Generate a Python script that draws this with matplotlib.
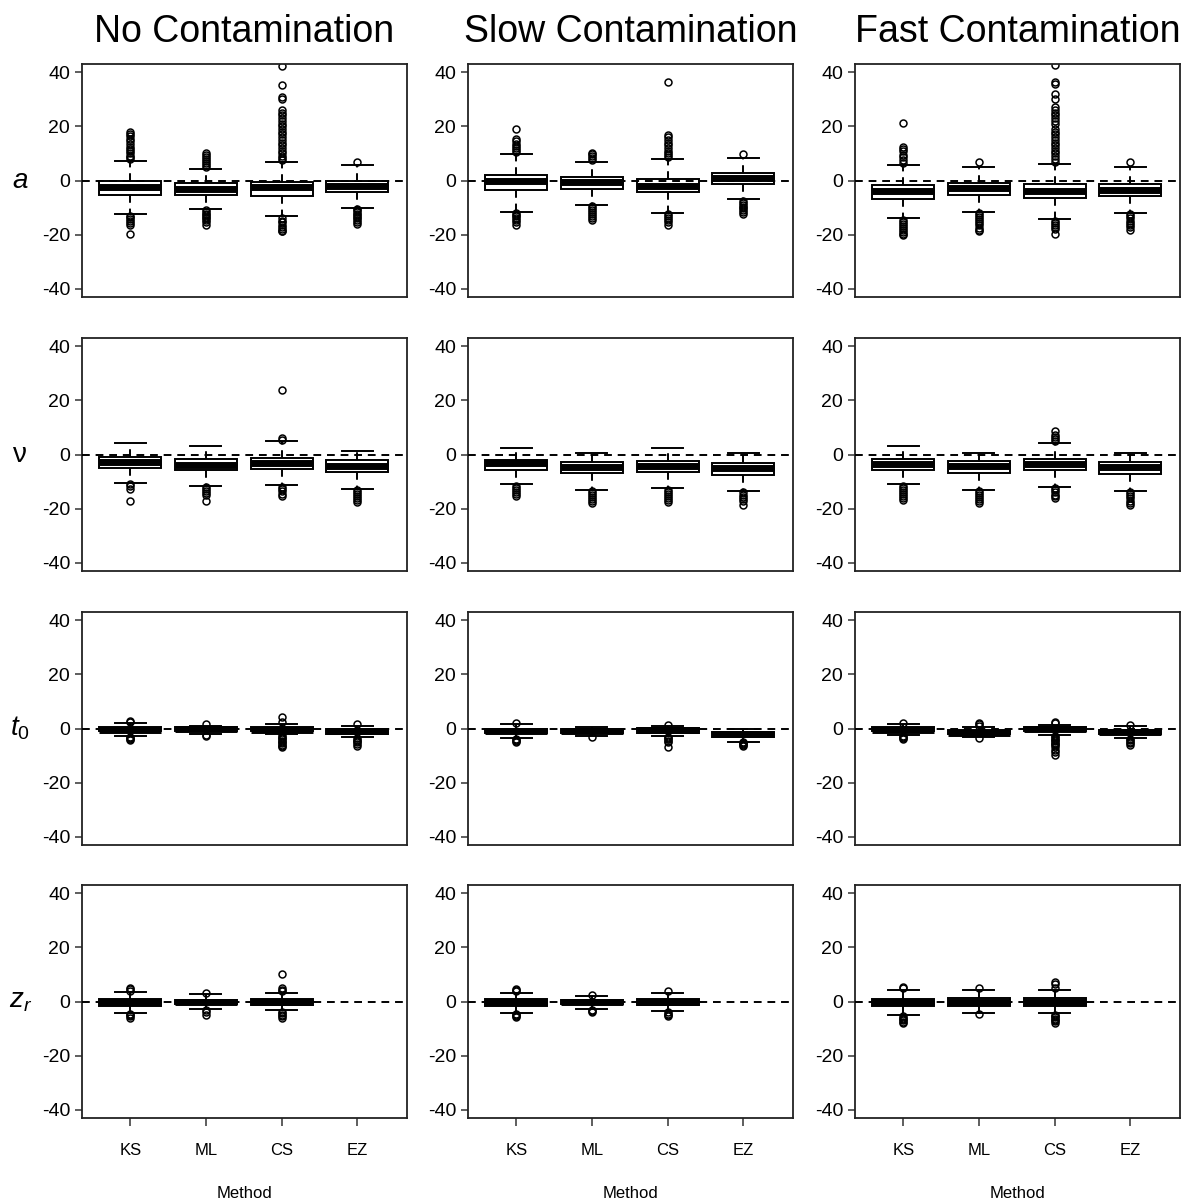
import numpy as np
import matplotlib
matplotlib.use('Agg')
import matplotlib.pyplot as plt
from matplotlib import transforms

plt.rcParams['font.family'] = ['Liberation Sans', 'DejaVu Sans']
plt.rcParams['mathtext.fontset'] = 'custom'
plt.rcParams['mathtext.rm'] = 'Liberation Sans'
plt.rcParams['mathtext.it'] = 'Liberation Sans:italic'

methods = ['KS', 'ML', 'CS', 'EZ']
conditions = ['No Contamination', 'Slow Contamination', 'Fast Contamination']
param_labels = ['$a$', 'ν', '$t_0$', '$z_r$']

# percent bias summaries, rows = condition, columns = method
# --- a ---
a_q1 = [[-5.2, -5.2, -5.7, -4.1], [-3.5, -3.1, -4.4, -1.2], [-6.7, -5.2, -6.5, -5.8]]
a_med = [[-2.3, -3.0, -2.5, -1.9], [-0.1, -0.7, -2.0, 0.9], [-3.8, -2.7, -4.0, -3.5]]
a_q3 = [[-0.3, -1.0, -0.4, -0.1], [2.2, 1.2, 0.6, 2.8], [-1.5, -1.0, -1.4, -1.2]]
a_lo = [[-12.5, -10.5, -13.1, -10.0], [-11.5, -9.0, -11.9, -6.9], [-14.0, -11.5, -14.3, -12.1]]
a_hi = [[7.3, 4.1, 6.9, 5.7], [9.8, 7.0, 8.0, 8.4], [5.7, 4.9, 6.2, 5.0]]
a_out = [
    [[8, 8.6, 9.2, 10, 10.8, 11.5, 12.5, 13.5, 14.5, 15.5, 16.5, 17.2, 17.8,
      -13, -13.6, -14.2, -15, -15.8, -16.5, -19.6],
     [5, 5.8, 6.5, 7.2, 8, 8.7, 9.4, 10,
      -11, -11.6, -12.2, -12.8, -13.4, -14, -14.7, -15.4, -16.3],
     [7.5, 8.2, 9, 10, 11, 12, 13, 14, 15, 16, 17, 18, 19, 20, 21, 22, 23, 24,
      25, 26, 30.2, 30.8, 35.4, 42.3,
      -14, -14.8, -15.5, -16.3, -17, -17.8, -18.5, -18.8],
     [6.8, -10.5, -11, -11.6, -12.2, -12.8, -13.4, -14, -14.7, -15.4, -16]],
    [[10.5, 11.3, 12, 12.8, 13.6, 14.5, 15.5, 19,
      -12, -12.6, -13.2, -13.8, -14.5, -15.5, -16.3],
     [7.6, 8.3, 9, 9.6, 10.3,
      -9.5, -10.2, -10.8, -11.5, -12.2, -13, -13.8, -14.6],
     [8.6, 9.3, 10, 11, 12, 13, 14, 15, 16, 16.8, 36.2,
      -12.5, -13.2, -14, -14.7, -15.5, -16.3],
     [9.9, -7.5, -8.2, -8.9, -9.6, -10.3, -11, -11.7, -12.4]],
    [[6.5, 7.5, 8.5, 9.5, 11, 11.7, 12.3, 21.2,
      -14.5, -15.2, -16, -16.8, -17.5, -18.3, -19, -19.7, -20.2],
     [6.7, -12, -12.7, -13.4, -14.2, -15, -15.8, -16.6, -17.4, -18.2, -18.8],
     [7, 8, 9, 10, 11, 12, 13, 14, 15, 16, 17, 18, 19, 21, 22, 23, 24, 25, 26,
      27, 30, 32, 35.5, 36.2, 42.5,
      -15, -15.7, -16.4, -17.2, -18, -19.8],
     [6.8, -12.5, -13.2, -14, -14.8, -15.6, -16.4, -17.2, -18.2]],
]

# --- nu ---
v_q1 = [[-4.9, -5.9, -5.3, -6.4], [-5.8, -7.0, -6.5, -7.4], [-5.6, -6.9, -5.9, -7.3]]
v_med = [[-2.8, -3.7, -3.1, -4.1], [-3.3, -4.6, -4.3, -4.9], [-3.5, -4.4, -3.6, -4.7]]
v_q3 = [[-1.1, -1.6, -1.2, -2.1], [-1.9, -2.6, -2.3, -3.1], [-1.6, -2.5, -1.6, -2.8]]
v_lo = [[-10.4, -11.5, -11.4, -12.7], [-11.0, -13.0, -12.5, -13.6], [-11.0, -13.0, -12.0, -13.3]]
v_hi = [[4.1, 3.1, 4.9, 1.2], [2.3, 0.5, 2.3, 0.5], [3.3, 0.4, 4.1, 0.5]]
v_out = [
    [[-11, -11.8, -12.6, -17],
     [-12, -12.7, -13.4, -14.2, -15, -17],
     [5.5, 6, 23.7, -12, -12.8, -13.6, -14.5, -15.4],
     [-13, -13.7, -14.4, -15.2, -16, -16.8, -17.7]],
    [[-11.5, -12.2, -13, -13.8, -14.6, -15.5],
     [-13.5, -14.2, -15, -15.8, -16.6, -17.3, -18],
     [-13, -13.7, -14.5, -15.3, -16.1, -16.8, -17.5],
     [-14, -14.8, -15.6, -16.4, -17.2, -18.5]],
    [[-11.5, -12.2, -13, -13.8, -14.6, -15.4, -16.2, -16.8],
     [-13.5, -14.2, -15, -15.8, -16.6, -17.3, -18],
     [5, 5.7, 6.4, 7.2, 8.7, -12.5, -13.2, -14, -14.8, -15.5, -16],
     [-13.8, -14.6, -15.4, -16.2, -17, -17.8, -18.5]],
]

# --- t0 ---
t_q1 = [[-1.0, -0.9, -1.0, -1.9], [-1.7, -1.7, -1.6, -3.1], [-1.1, -2.2, -1.0, -2.1]]
t_med = [[-0.4, -0.3, -0.4, -1.0], [-0.9, -0.9, -0.7, -2.2], [-0.4, -1.5, -0.2, -1.2]]
t_q3 = [[0.4, 0.4, 0.4, -0.1], [0.0, 0.0, 0.1, -1.2], [0.4, -0.6, 0.5, -0.5]]
t_lo = [[-2.6, -2.0, -2.2, -3.3], [-3.5, -2.8, -2.7, -4.8], [-2.3, -3.1, -2.3, -3.5]]
t_hi = [[1.9, 1.1, 1.6, 1.0], [1.5, 0.6, 1.1, 0.0], [1.6, 0.7, 1.4, 1.0]]
t_out = [
    [[2.5, 2.9, -3, -3.4, -3.8, -4.2],
     [1.5, -2.3, -2.8],
     [2.3, 4.3, -2.5, -3, -3.5, -4, -4.5, -5, -5.5, -6, -6.5, -7],
     [1.5, -3.6, -4.1, -4.6, -5.1, -5.6, -6.3]],
    [[1.9, -3.8, -4.2, -4.6, -5],
     [-3.3],
     [1.4, -3, -3.5, -4, -4.5, -5, -7],
     [-5, -5.4, -5.8, -6.2, -6.5]],
    [[2, -2.7, -3.1, -3.5, -4],
     [1, 1.5, 2, -3.4],
     [2, 2.3, -2.7, -3.2, -3.7, -4.2, -4.7, -5.2, -5.7, -6.2, -7, -7.8, -8.6, -9.8],
     [1.4, -3.8, -4.3, -4.8, -5.3, -6]],
]

# --- zr (no EZ estimate) ---
z_q1 = [[-1.5, -0.9, -1.2, None], [-1.5, -0.9, -1.4, None], [-1.6, -1.5, -1.5, None]]
z_med = [[-0.3, -0.1, -0.1, None], [-0.3, -0.1, -0.1, None], [-0.3, -0.1, -0.1, None]]
z_q3 = [[0.9, 0.7, 1.1, None], [1.0, 0.6, 1.0, None], [1.1, 1.4, 1.2, None]]
z_lo = [[-4.3, -2.6, -3.2, None], [-4.2, -2.6, -3.5, None], [-4.9, -4.3, -4.3, None]]
z_hi = [[3.6, 2.6, 3.1, None], [3.3, 2.1, 3.1, None], [4.3, 4.3, 4.1, None]]
z_out = [
    [[4, 4.5, 5, -4.6, -5, -5.5, -6],
     [3.3, -3, -4, -5],
     [3.8, 4.4, 5, 10, -3.7, -4.3, -5, -5.5, -6],
     []],
    [[4, 4.3, 4.6, -4.6, -5, -5.3, -5.6],
     [2.3, -3, -3.5, -4],
     [3.8, -4, -4.5, -5, -5.4],
     []],
    [[4.8, 5.2, -5.5, -6, -6.5, -7, -7.5, -8],
     [4.8, -4.6],
     [4.8, 6.5, 7.3, -4.8, -5.3, -5.8, -6.3, -6.8, -7.3, -8],
     []],
]

params = [
    (a_q1, a_med, a_q3, a_lo, a_hi, a_out),
    (v_q1, v_med, v_q3, v_lo, v_hi, v_out),
    (t_q1, t_med, t_q3, t_lo, t_hi, t_out),
    (z_q1, z_med, z_q3, z_lo, z_hi, z_out),
]

fig = plt.figure(figsize=(11.91, 12), dpi=100)

col_left = [82, 468, 855]
row_top = [64, 338, 612, 885]
W, H = 325, 233

for r, (q1, med, q3, lo, hi, out) in enumerate(params):
    for c in range(3):
        ax = fig.add_axes([col_left[c] / 1191, 1 - (row_top[r] + H) / 1200,
                           W / 1191, H / 1200])
        stats = []
        pos = []
        for m in range(4):
            if med[c][m] is None:
                continue
            stats.append(dict(med=med[c][m], q1=q1[c][m], q3=q3[c][m],
                              whislo=lo[c][m], whishi=hi[c][m],
                              fliers=out[c][m]))
            pos.append(m + 1)
        ax.bxp(stats, positions=pos, widths=0.82, capwidths=0.41,
               patch_artist=True,
               boxprops=dict(facecolor='white', edgecolor='black', linewidth=1.4),
               medianprops=dict(color='black', linewidth=5, solid_capstyle='butt'),
               whiskerprops=dict(color='black', linewidth=1.4, linestyle=(0, (4, 3))),
               capprops=dict(color='black', linewidth=1.4),
               flierprops=dict(marker='o', markerfacecolor='none',
                               markeredgecolor='black', markersize=5,
                               markeredgewidth=1.1))
        ax.axhline(0, color='black', linewidth=1.4, linestyle=(0, (4, 3)), zorder=5)

        ax.set_xlim(0.36, 4.66)
        ax.set_ylim(-43, 43)
        ax.set_yticks([-40, -20, 0, 20, 40])
        ax.set_yticklabels(['-40', '-20', '0', '20', '40'])
        ax.tick_params(axis='y', labelsize=14, length=5, width=1.1, color='#333333')
        for s in ax.spines.values():
            s.set_linewidth(1.3)
            s.set_color('#222222')

        if r == 3:
            ax.set_xticks([1, 2, 3, 4])
            ax.set_xticklabels(methods)
            ax.tick_params(axis='x', labelsize=12, length=6, pad=12, width=1.1,
                           color='#333333')
            ax.set_xlabel('Method', fontsize=12, labelpad=20)
        else:
            ax.set_xticks([])

        if r == 0:
            ax.set_title(conditions[c], fontsize=27, pad=16)
        if c == 0:
            trans = transforms.blended_transform_factory(ax.transAxes, ax.transData)
            ax.text(-0.19, 0, param_labels[r], transform=trans, fontsize=20,
                    ha='center', va='center')

fig.savefig('out.png', dpi=100)
